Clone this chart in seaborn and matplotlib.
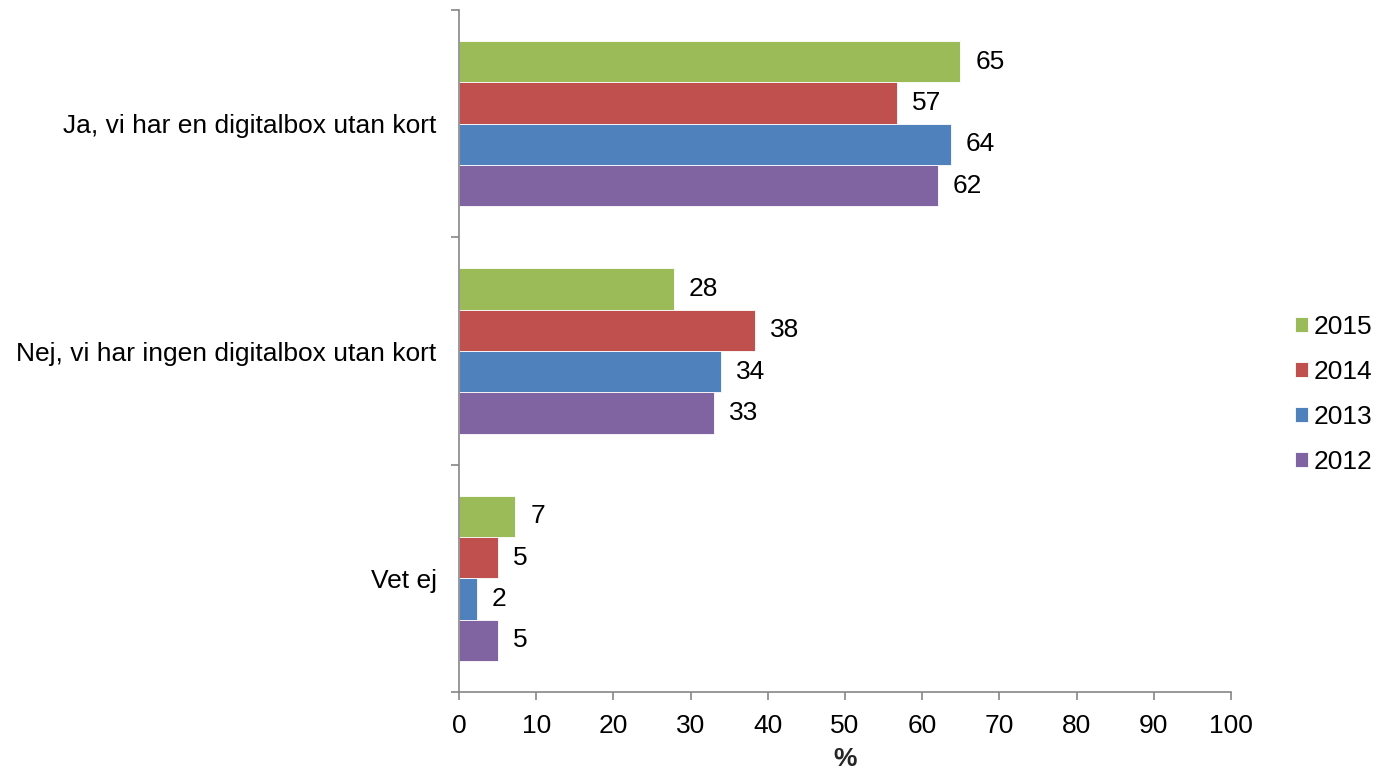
import pandas as pd
import matplotlib.pyplot as plt
import seaborn as sns

categories = ['Ja, vi har en digitalbox utan kort',
              'Nej, vi har ingen digitalbox utan kort',
              'Vet ej']
years = ['2015', '2014', '2013', '2012']
values_2015 = [64.9, 27.8, 7.3]
values_2014 = [56.7, 38.3, 5.0]
values_2013 = [63.7, 33.9, 2.3]
values_2012 = [62.0, 33.0, 5.0]
colors = ['#9BBB59', '#C0504D', '#4F81BD', '#8064A2']

series = [values_2015, values_2014, values_2013, values_2012]
rows = []
for year, vals in zip(years, series):
    for cat, v in zip(categories, vals):
        rows.append({'category': cat, 'year': year, 'value': v})
df = pd.DataFrame(rows)

sns.set_style('white')
plt.rcParams['font.family'] = ['Liberation Sans', 'DejaVu Sans']
plt.rcParams['text.color'] = 'black'
plt.rcParams['xtick.labelcolor'] = 'black'
plt.rcParams['ytick.labelcolor'] = 'black'
fs = 19

fig = plt.figure(figsize=(13.79, 7.73), dpi=100)
ax = fig.add_axes([0.3328, 0.1048, 0.5599, 0.8822])

sns.barplot(data=df, y='category', x='value', hue='year', order=categories,
            hue_order=years, palette=colors, saturation=1, orient='h', width=0.727,
            edgecolor='white', linewidth=0.6, ax=ax)

# value labels, rounded like the original
for cont in ax.containers:
    ax.bar_label(cont, fmt='%.0f', padding=11, fontsize=fs, color='black')

ax.set_xlim(0, 100)
ax.set_ylim(2.5, -0.5)
ax.set_xticks(range(0, 101, 10))
ax.set_yticks([-0.5, 0.5, 1.5, 2.5], minor=True)
ax.tick_params(axis='y', which='major', length=0, pad=16, labelsize=fs)
ax.tick_params(axis='y', which='minor', length=6, width=1.2, color='#868686', direction='out', left=True)
ax.tick_params(axis='x', length=6, width=1.2, color='#868686', direction='out', bottom=True, pad=10, labelsize=fs)
ax.set_ylabel('')
ax.set_xlabel('%', fontsize=fs, fontweight='bold', labelpad=6)

sns.despine(ax=ax)
for side in ['left', 'bottom']:
    ax.spines[side].set_color('#868686')
    ax.spines[side].set_linewidth(1.2)

handles, labels = ax.get_legend_handles_labels()
ax.legend_.remove()
fig.legend(handles, labels, loc='center left', bbox_to_anchor=(0.939, 0.49),
           frameon=False, fontsize=fs, handlelength=0.5, handleheight=0.5,
           handletextpad=0.2, labelspacing=0.8, borderaxespad=0, borderpad=0)

fig.savefig('out.png', dpi=100)
